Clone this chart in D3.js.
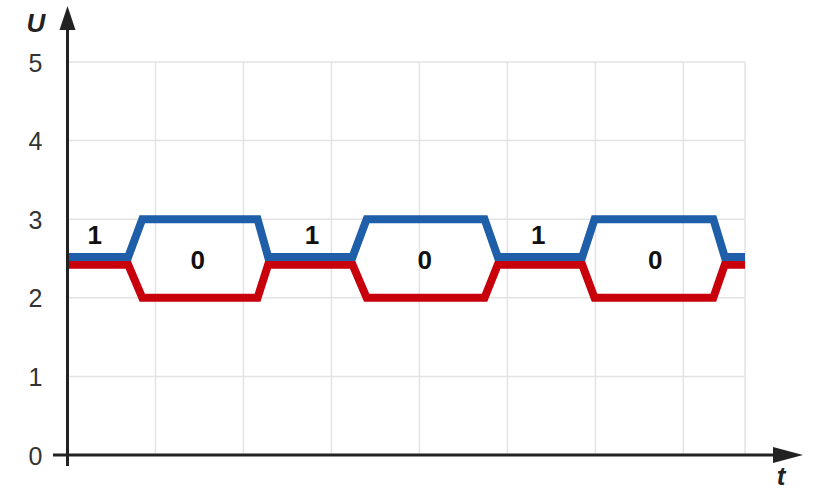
<!DOCTYPE html>
<html>
<head>
<meta charset="utf-8">
<script src="https://cdn.jsdelivr.net/npm/d3@7"></script>
<style>
  body { margin: 0; background: #fff; }
  svg { display: block; font-family: "Liberation Sans", Arial, sans-serif; }
  .grid line { stroke: #e3e3e3; stroke-width: 1.5; }
  .tick text { font-size: 25px; fill: #333; }
  .bit { font-size: 26px; font-weight: bold; fill: #111; text-anchor: middle; }
  .axis-name { font-size: 26px; font-weight: bold; font-style: italic; fill: #222; }
</style>
</head>
<body>
<svg id="chart" width="818" height="492"></svg>
<script>
const uTicks = [0, 1, 2, 3, 4, 5];
const gridT = [1, 2, 3, 4, 5, 6, 7, 7.7];

// signal corners (t, U)
const sigT  = [0, 0.69, 0.85, 2.16, 2.28, 3.24, 3.40, 4.74, 4.89, 5.85, 5.99, 7.34, 7.47, 7.70];
const blueU = [2.52, 2.52, 3.0, 3.0, 2.52, 2.52, 3.0, 3.0, 2.52, 2.52, 3.0, 3.0, 2.52, 2.52];
const redU  = [2.42, 2.42, 2.0, 2.0, 2.42, 2.42, 2.0, 2.0, 2.42, 2.42, 2.0, 2.0, 2.42, 2.42];

const oneT = [0.31, 2.78, 5.35];
const zeroT = [1.48, 4.06, 6.68];
const oneU = 2.80, zeroU = 2.49;

const svg = d3.select("svg#chart");

var x = d3.scaleLinear().domain([0, 7.7]).range([67.5, 745]);
var y = d3.scaleLinear().domain([0, 5]).range([455, 62]);

// GRID
var grid = svg.append("g").attr("class", "grid");
grid.selectAll(".h").data(uTicks.filter(d => d > 0)).enter()
  .append("line").attr("class", "h")
  .attr("x1", x(0)).attr("x2", x(7.7))
  .attr("y1", d => y(d)).attr("y2", d => y(d));
grid.selectAll(".v").data(gridT).enter()
  .append("line").attr("class", "v")
  .attr("x1", d => x(d)).attr("x2", d => x(d))
  .attr("y1", y(0)).attr("y2", y(5));

// Y tick labels
var yAxis = d3.axisLeft(y).tickValues(uTicks).tickSize(0).tickFormat(d3.format("d"));
var yg = svg.append("g").attr("transform", `translate(${x(0)},0)`).call(yAxis);
yg.select(".domain").remove();
yg.selectAll(".tick text")
  .attr("x", -32).attr("dy", "0.36em")
  .attr("text-anchor", "middle")
  .attr("font-family", null).attr("font-size", null).attr("fill", null);

// SIGNALS
var line = d3.line().x(d => x(d[0])).y(d => y(d[1])).curve(d3.curveLinear);
svg.append("path")
  .datum(sigT.map((t, i) => [t, redU[i]]))
  .attr("d", line)
  .attr("fill", "none").attr("stroke", "#c8000c").attr("stroke-width", 8)
  .attr("stroke-linejoin", "miter");
svg.append("path")
  .datum(sigT.map((t, i) => [t, blueU[i]]))
  .attr("d", line)
  .attr("fill", "none").attr("stroke", "#1f5ea8").attr("stroke-width", 8)
  .attr("stroke-linejoin", "miter");

// bit labels
svg.selectAll(".one").data(oneT).enter().append("text")
  .attr("class", "bit")
  .attr("x", d => x(d)).attr("y", y(oneU)).attr("dy", "0.36em")
  .text("1");
svg.selectAll(".zero").data(zeroT).enter().append("text")
  .attr("class", "bit")
  .attr("x", d => x(d)).attr("y", y(zeroU)).attr("dy", "0.36em")
  .text("0");

// AXES with arrows
var axisColor = "#222";
svg.append("line")
  .attr("x1", x(0)).attr("x2", x(0))
  .attr("y1", y(0) + 11).attr("y2", 26)
  .attr("stroke", axisColor).attr("stroke-width", 3);
svg.append("path")
  .attr("d", `M${x(0)},6 L${x(0) - 8},30 L${x(0) + 8},30 Z`)
  .attr("fill", axisColor);

svg.append("line")
  .attr("x1", 53).attr("x2", 778)
  .attr("y1", y(0)).attr("y2", y(0))
  .attr("stroke", axisColor).attr("stroke-width", 3);
svg.append("path")
  .attr("d", `M803,${y(0)} L773,${y(0) - 8} L773,${y(0) + 8} Z`)
  .attr("fill", axisColor);

svg.append("text").attr("class", "axis-name")
  .attr("x", 36).attr("y", 32).attr("text-anchor", "middle").text("U");
svg.append("text").attr("class", "axis-name")
  .attr("x", 781).attr("y", 485).attr("text-anchor", "middle").text("t");
</script>
</body>
</html>
